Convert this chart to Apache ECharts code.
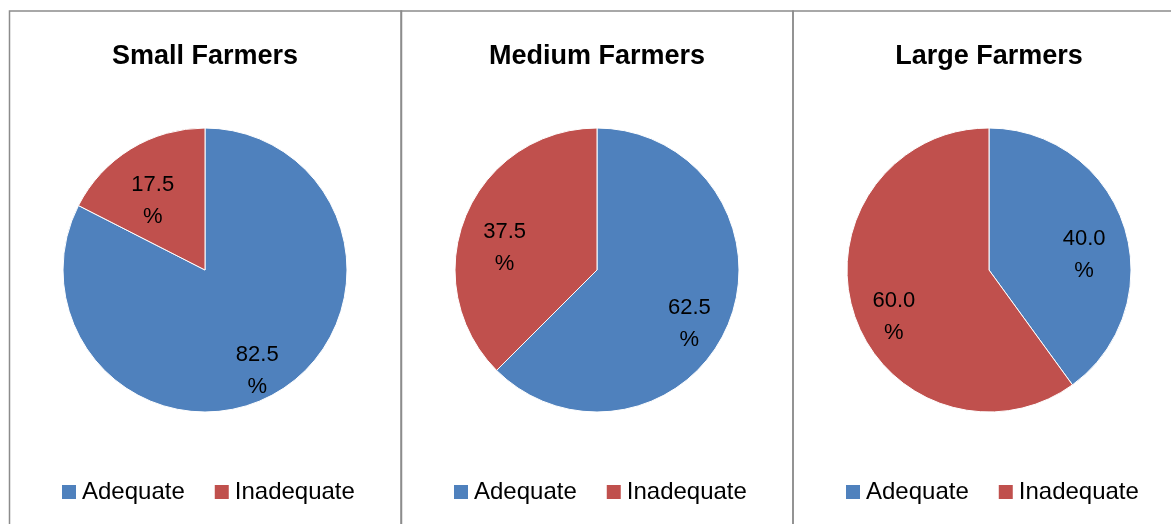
<!DOCTYPE html>
<html>
<head>
<meta charset="utf-8">
<script src="https://cdn.jsdelivr.net/npm/echarts@6/dist/echarts.min.js"></script>
<style>
html,body{margin:0;padding:0;background:#fff;}
#chart{width:1171px;height:524px;}
</style>
</head>
<body>
<div id="chart"></div>
<script>
const panelTitles = ['Small Farmers', 'Medium Farmers', 'Large Farmers'];
const categories = ['Adequate', 'Inadequate'];
const adequateValues = [82.5, 62.5, 40.0];
const inadequateValues = [17.5, 37.5, 60.0];

const colors = ['#4F81BD', '#C0504D'];
const FONT = '"Liberation Sans", Arial, sans-serif';
const panelX = [9.5, 401, 793];
const panelW = 392;
const centersX = [205, 597, 989];
const centerY = 270;
const R = 142;
const legendLeft = [60, 452, 844];

const chart = echarts.init(document.getElementById('chart'), null, {renderer: 'canvas'});

const titles = panelTitles.map((t, i) => ({
  text: t,
  left: centersX[i] - 5,
  textAlign: 'center',
  top: 38,
  textStyle: {fontFamily: FONT, fontSize: 27, fontWeight: 'bold', color: '#000'}
}));

const legends = panelTitles.map((t, i) => ({
  data: categories,
  left: legendLeft[i],
  top: 480,
  padding: 0,
  icon: 'rect',
  itemWidth: 16,
  itemHeight: 16,
  itemGap: 28,
  textStyle: {fontFamily: FONT, fontSize: 24, color: '#000'},
  selectedMode: false
}));

function pieData(i) {
  return [
    {name: categories[0], value: adequateValues[i]},
    {name: categories[1], value: inadequateValues[i]}
  ];
}

const mainSeries = panelTitles.map((t, i) => ({
  type: 'pie',
  center: [centersX[i], centerY],
  radius: [0, R],
  startAngle: 90,
  clockwise: true,
  silent: true,
  label: {show: false},
  labelLine: {show: false},
  itemStyle: {borderColor: '#fff', borderWidth: 1},
  color: colors,
  data: pieData(i)
}));

// label ring: first line of each label sits on the slice's mid-angle
const labelSeries = panelTitles.map((t, i) => ({
  type: 'pie',
  center: [centersX[i], centerY],
  radius: [52, R],
  startAngle: 90,
  clockwise: true,
  silent: true,
  itemStyle: {color: 'rgba(0,0,0,0)', borderWidth: 0},
  label: {
    show: true,
    position: 'inside',
    formatter: p => ' \n' + p.value.toFixed(1) + '\n%',
    fontFamily: FONT,
    fontSize: 22,
    lineHeight: 32,
    color: '#000'
  },
  labelLine: {show: false},
  data: pieData(i)
}));

const borders = panelX.map((x) => ({
  type: 'rect',
  shape: {x: x, y: 11, width: panelW, height: 540},
  style: {fill: 'none', stroke: '#8c8c8c', lineWidth: 1.5},
  silent: true,
  z: 0
}));

chart.setOption({
  backgroundColor: '#fff',
  animation: false,
  color: colors,
  title: titles,
  legend: legends,
  graphic: borders,
  series: mainSeries.concat(labelSeries)
});
</script>
</body>
</html>
